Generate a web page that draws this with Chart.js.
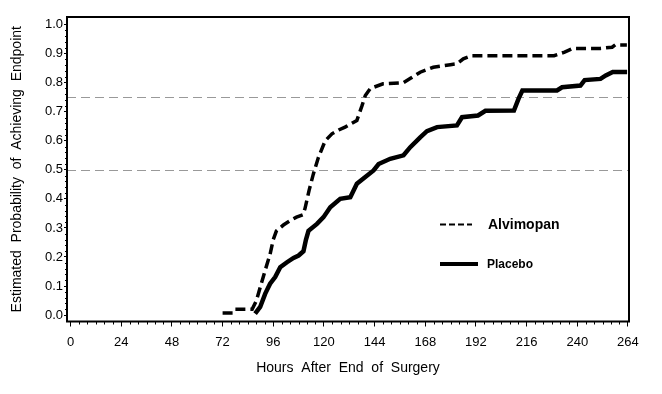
<!DOCTYPE html>
<html>
<head>
<meta charset="utf-8">
<script src="https://cdn.jsdelivr.net/npm/chart.js@4/dist/chart.umd.min.js"></script>
<style>
  body { margin: 0; background: #fff; }
  #wrap { width: 662px; height: 394px; }
</style>
</head>
<body>
<div id="wrap"><canvas id="myChart" width="662" height="394"></canvas></div>
<script>
var xTicks = [0, 24, 48, 72, 96, 120, 144, 168, 192, 216, 240, 264];
var yTicks = [0, 0.1, 0.2, 0.3, 0.4, 0.5, 0.6, 0.7, 0.8, 0.9, 1.0];
var refLines = [0.5, 0.75];

// Alvimopan (dashed)
var alvHours = [72, 77, 78, 86, 88, 90, 92, 94.5, 96, 97.5, 100.8, 104, 107, 110, 111, 113, 115, 117.4, 120.6, 123.8, 127, 130, 135.6, 138, 139.6, 142, 148, 157.6, 161, 165.6, 171.8, 179.9, 183, 186, 190, 229, 234, 238, 251, 256.5, 258, 263.5];
var alvProb  = [0.007, 0.007, 0.02, 0.02, 0.05, 0.10, 0.15, 0.21, 0.26, 0.29, 0.31, 0.325, 0.337, 0.345, 0.366, 0.43, 0.486, 0.543, 0.60, 0.624, 0.637, 0.647, 0.67, 0.72, 0.756, 0.78, 0.796, 0.80, 0.815, 0.836, 0.853, 0.862, 0.865, 0.882, 0.893, 0.893, 0.905, 0.918, 0.918, 0.922, 0.93, 0.93];

// Placebo (solid)
var plaHours = [87.4, 89.8, 92.2, 94.5, 96.9, 99.3, 102.5, 105.6, 108, 110.3, 111.5, 112.7, 116.7, 119.8, 123, 127.7, 132.5, 135.6, 139.6, 143.5, 145.9, 151.4, 157.7, 160.9, 165.6, 168.8, 173.6, 183, 185.4, 193, 196.5, 210, 212.2, 214, 230.4, 232.8, 241.5, 243.5, 251, 253.5, 256.8, 263.6];
var plaProb  = [0.005, 0.028, 0.074, 0.108, 0.131, 0.165, 0.182, 0.197, 0.205, 0.22, 0.26, 0.29, 0.314, 0.337, 0.371, 0.40, 0.406, 0.452, 0.475, 0.498, 0.52, 0.538, 0.55, 0.578, 0.612, 0.633, 0.647, 0.653, 0.681, 0.687, 0.703, 0.704, 0.745, 0.773, 0.773, 0.784, 0.79, 0.809, 0.813, 0.825, 0.837, 0.837];

function pts(xs, ys) {
  return xs.map(function (x, i) { return { x: x, y: ys[i] }; });
}

var FONT = "'Liberation Sans', Arial, sans-serif";

var framePlugin = {
  id: 'frame',
  beforeDatasetsDraw: function (chart) {
    var ctx = chart.ctx, a = chart.chartArea, ys = chart.scales.y;
    ctx.save();
    ctx.strokeStyle = '#999';
    ctx.lineWidth = 1;
    ctx.setLineDash([9, 5]);
    refLines.forEach(function (v) {
      var py = Math.round(ys.getPixelForValue(v)) + 0.5;
      ctx.beginPath();
      ctx.moveTo(a.left, py);
      ctx.lineTo(a.right, py);
      ctx.stroke();
    });
    ctx.restore();
  },
  afterDraw: function (chart) {
    var ctx = chart.ctx, a = chart.chartArea;
    var xs = chart.scales.x, ys = chart.scales.y;
    ctx.save();
    // minor ticks
    ctx.strokeStyle = '#000';
    ctx.lineWidth = 1;
    for (var h = 0; h <= 264; h += 4) {
      if (h % 24 === 0) continue;
      var px = Math.round(xs.getPixelForValue(h)) + 0.5;
      ctx.beginPath(); ctx.moveTo(px, a.bottom); ctx.lineTo(px, a.bottom + 3); ctx.stroke();
    }
    for (var k = 0; k <= 50; k++) {
      if (k % 5 === 0) continue;
      var py = Math.round(ys.getPixelForValue(k * 0.02)) + 0.5;
      ctx.beginPath(); ctx.moveTo(a.left - 2, py); ctx.lineTo(a.left, py); ctx.stroke();
    }
    // frame
    ctx.lineWidth = 2;
    ctx.strokeRect(a.left, a.top, a.right - a.left, a.bottom - a.top);
    // legend
    ctx.lineWidth = 2;
    ctx.setLineDash([6, 3]);
    ctx.beginPath(); ctx.moveTo(440, 224.5); ctx.lineTo(472, 224.5); ctx.stroke();
    ctx.setLineDash([]);
    ctx.lineWidth = 4;
    ctx.beginPath(); ctx.moveTo(440, 264); ctx.lineTo(478, 264); ctx.stroke();
    ctx.fillStyle = '#000';
    ctx.textBaseline = 'middle';
    ctx.textAlign = 'left';
    ctx.font = 'bold 14px ' + FONT;
    ctx.fillText('Alvimopan', 488, 225);
    ctx.font = 'bold 12px ' + FONT;
    ctx.fillText('Placebo', 487, 264.5);
    ctx.restore();
  }
};

new Chart("myChart", {
  type: "line",
  data: {
    datasets: [{
      label: "Alvimopan",
      data: pts(alvHours, alvProb),
      borderColor: "#000",
      borderWidth: 3.5,
      borderDash: [10, 5],
      pointRadius: 0,
      tension: 0,
      fill: false
    }, {
      label: "Placebo",
      data: pts(plaHours, plaProb),
      borderColor: "#000",
      borderWidth: 4.5,
      pointRadius: 0,
      tension: 0,
      fill: false
    }]
  },
  options: {
    responsive: false,
    animation: false,
    layout: { padding: { left: 0, top: 17, right: 33, bottom: 0 } },
    plugins: { legend: { display: false }, tooltip: { enabled: false } },
    scales: {
      x: {
        type: "linear",
        min: -1.7,
        max: 264.5,
        afterBuildTicks: function (s) { s.ticks = xTicks.map(function (v) { return { value: v }; }); },
        afterFit: function (s) { s.height = 72.5; },
        border: { display: false },
        grid: { drawOnChartArea: false, drawTicks: true, tickLength: 5, color: "#000" },
        ticks: { color: "#000", font: { family: FONT, size: 13 }, padding: 8, maxRotation: 0 },
        title: {
          display: true,
          text: "Hours  After  End  of  Surgery",
          color: "#000",
          font: { family: FONT, size: 14 },
          padding: { top: 4, bottom: 17.6 }
        }
      },
      y: {
        type: "linear",
        min: -0.022,
        max: 1.026,
        afterBuildTicks: function (s) { s.ticks = yTicks.map(function (v) { return { value: v }; }); },
        afterFit: function (s) { s.width = 67; },
        border: { display: false },
        grid: { drawOnChartArea: false, drawTicks: true, tickLength: 3, color: "#000" },
        ticks: {
          color: "#000",
          font: { family: FONT, size: 13 },
          padding: 1,
          callback: function (v) { return v.toFixed(1); }
        },
        title: {
          display: true,
          text: "Estimated  Probability  of  Achieving  Endpoint",
          color: "#000",
          font: { family: FONT, size: 14 },
          padding: { top: 8.6, bottom: 4 }
        }
      }
    }
  },
  plugins: [framePlugin]
});
</script>
</body>
</html>
